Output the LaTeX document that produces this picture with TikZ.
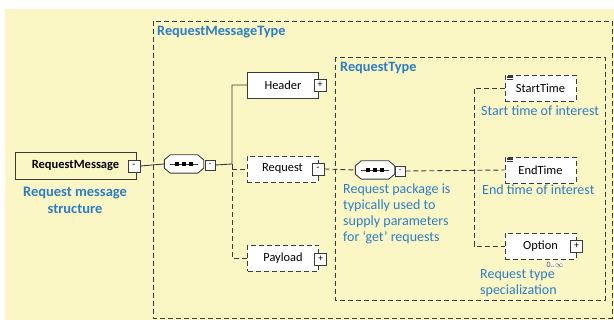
\documentclass[tikz,border=0pt]{standalone}
\usepackage{fontspec}
\setmainfont{Carlito}
\definecolor{bgyel}{HTML}{FAF7C4}
\definecolor{tblue}{HTML}{2B7EC4}
\definecolor{lgray}{HTML}{3A3A3A}
\tikzset{
  dsh/.style={dash pattern=on 5pt off 3pt},
  elem/.style={draw=lgray, line width=0.9pt, fill=white, minimum width=71pt, minimum height=26pt, inner sep=0pt, font=\fontsize{12.4}{14}\selectfont},
  optelem/.style={elem, dsh},
  pm/.style={draw=lgray, line width=0.8pt, fill=white, minimum size=12pt, inner sep=0pt, font=\fontsize{10}{10}\selectfont},
  pmsmall/.style={pm, minimum size=10pt, font=\fontsize{8}{8}\selectfont},
  compbox/.style={minimum width=39pt, minimum height=18pt, inner sep=0pt},
  conn/.style={draw=lgray, line width=0.9pt},
  dconn/.style={conn, dsh},
  frame/.style={draw=lgray, line width=0.9pt, dsh},
  btitle/.style={text=tblue, font=\fontsize{14.3}{16}\bfseries\selectfont, inner sep=0pt, anchor=west},
  note/.style={text=tblue, font=\fontsize{14}{16}\selectfont, inner sep=0pt, align=left},
}
\newcommand{\seqshape}[1]{%
  \draw[lgray, line width=0.9pt, fill=white]
    ([xshift=6pt]#1.north west) -- ([xshift=-6pt]#1.north east) -- ([yshift=-5pt]#1.north east)
    -- ([yshift=5pt]#1.south east) -- ([xshift=-6pt]#1.south east) -- ([xshift=6pt]#1.south west)
    -- ([yshift=5pt]#1.south west) -- ([yshift=-5pt]#1.north west) -- cycle;
  \draw[lgray, line width=0.9pt] ([xshift=-14pt]#1.center) -- ([xshift=14pt]#1.center);
  \foreach \dx in {-7,0,7} \fill[black] ([xshift=\dx pt]#1.center) +(-2pt,-2pt) rectangle +(2pt,2pt);
}
\newcommand{\docicon}[1]{%
  \foreach \dy in {1.5,3,4.5} \draw[lgray, line width=0.6pt] ([xshift=2pt,yshift=-\dy pt]#1.north west) -- ++(6pt,0);
}
\begin{document}
\begin{tikzpicture}[x=1pt,y=-1pt]
\useasboundingbox (0,0) rectangle (614,320);
\fill[bgyel] (5,9) rectangle (614,320);
% frames
\draw[frame] (153,21) rectangle (612,318);
\draw[frame] (335,57) rectangle (605,300);
\node[btitle] (t1) at (157,32) {RequestMessageType};
\node[btitle] (t2) at (340,68) {RequestType};
% root
\node[draw=lgray, line width=0.9pt, minimum width=121pt, minimum height=27pt, inner sep=0pt, font=\fontsize{12.5}{14}\bfseries\selectfont] (rm) at (75.5,165.5) {RequestMessage};
\node[pm] (rmm) at (134,166) {-};
\node[text=tblue, font=\fontsize{14.5}{17}\bfseries\selectfont, align=center, inner sep=0pt] (cap) at (75,200.5) {Request message\\structure};
% compositor 1
\node[compbox] (s1) at (184,164) {};
\seqshape{s1}
\node[pmsmall] (s1m) at (210,165) {-};
% children
\node[elem] (hd) at (283,85) {Header};
\node[pm] (hdp) at (320,85) {+};
\node[optelem] (rq) at (282.5,169) {Request};
\node[pm] (rqm) at (318,169) {-};
\node[optelem] (pl) at (283,258) {Payload};
\node[pm] (plp) at (320.5,259) {+};
\coordinate (j1) at (232,164);
\coordinate (j1b) at (232,169);
\draw[conn] (rmm.east) -- (s1.west);
\draw[conn] (s1m.east) -- (j1) |- (hd.west);
\draw[dconn] (j1) |- (pl.west);
\draw[dconn] (j1b) -- (rq.west);
% compositor 2
\node[compbox] (s2) at (375,170) {};
\seqshape{s2}
\node[pmsmall] (s2m) at (400,171) {-};
\draw[dconn] (rqm.east) -- (s2.west);
\node[note, anchor=west] (n2) at (343,214) {Request package is\\typically used to\\supply parameters\\for ‘get’ requests};
% RequestType children
\node[optelem] (st) at (540.5,88) {StartTime};
\docicon{st}
\node[optelem] (et) at (540.5,170) {EndTime};
\docicon{et}
\node[optelem] (op) at (540.5,246) {Option};
\node[pm] (opp) at (576.5,246) {+};
\coordinate (j2) at (474,246);
\draw[dconn] (s2m.east) -- (et.west);
\draw[dconn] (st.west) -| (j2) -- (op.west);
\node[note, anchor=west] (n3) at (481,111) {Start time of interest};
\node[note, anchor=west] (n4) at (482,190) {End time of interest};
\node[fill=white, fill opacity=0.6, text opacity=1, font=\fontsize{8}{8}\selectfont, inner sep=1pt, text=black!70] (mult) at (555,265) {0..$\infty$};
\node[note, anchor=west] (n5) at (480,283) {Request type\\specialization};
\end{tikzpicture}
\end{document}
